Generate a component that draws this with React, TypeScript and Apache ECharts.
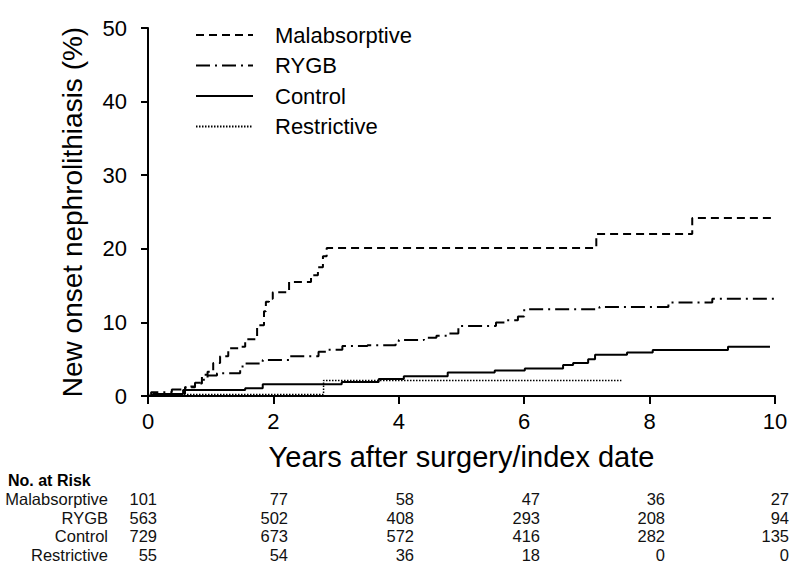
import React, { useEffect, useRef } from "react";
import * as echarts from "echarts";

const seriesNames = ["Malabsorptive", "RYGB", "Control", "Restrictive"];

const malabTimes = [0, 0.59, 0.75, 0.86, 0.95, 1.04, 1.15, 1.28, 1.47, 1.55, 1.74, 1.85, 1.88, 1.93, 1.99, 2.25, 2.6, 2.71, 2.79, 2.85, 7.15, 8.68, 10];
const malabPct = [0, 1.2, 1.7, 2.9, 3.3, 4.5, 5.4, 6.5, 6.7, 7.7, 9.6, 11.5, 12.8, 13.2, 14.1, 15.5, 16.4, 17.5, 19.0, 20.1, 22.0, 24.2, 24.2];

const rygbTimes = [0, 0.05, 0.38, 0.6, 0.75, 0.86, 0.95, 1.1, 1.47, 1.55, 1.83, 2.25, 2.72, 2.85, 3.1, 3.5, 3.95, 4.0, 4.4, 4.6, 4.8, 4.95, 5.55, 5.7, 5.9, 6.0, 7.2, 8.3, 9.0, 10];
const rygbPct = [0, 0.5, 0.9, 1.3, 1.8, 2.2, 2.8, 3.1, 4.0, 4.4, 4.9, 5.4, 6.0, 6.3, 6.8, 6.9, 7.2, 7.6, 7.9, 8.2, 8.5, 9.5, 10.0, 10.3, 10.8, 11.8, 12.1, 12.7, 13.2, 13.2];

const controlTimes = [0, 0.08, 0.56, 1.55, 1.83, 3.09, 3.68, 4.08, 4.78, 5.53, 6.01, 6.62, 6.78, 7.02, 7.13, 7.64, 8.05, 9.25, 9.92];
const controlPct = [0, 0.27, 0.8, 1.05, 1.6, 1.9, 2.3, 2.7, 3.2, 3.45, 3.75, 4.2, 4.5, 5.0, 5.6, 5.9, 6.25, 6.7, 6.7];

const restrictTimes = [0, 2.8, 7.55];
const restrictPct = [0.2, 2.1, 2.1];

const riskHeader = "No. at Risk";
const riskMalab = [101, 77, 58, 47, 36, 27];
const riskRygb = [563, 502, 408, 293, 208, 94];
const riskControl = [729, 673, 572, 416, 282, 135];
const riskRestrict = [55, 54, 36, 18, 0, 0];

const FONT = '"Liberation Sans", Arial, sans-serif';

function zip(t: number[], v: number[]) {
  return t.map((x, i) => [x, v[i]]);
}

export default function App() {
  const ref = useRef<HTMLDivElement>(null);
  useEffect(() => {
    const chart = echarts.init(ref.current!, null, { renderer: "svg" });
    const riskRows = [riskMalab, riskRygb, riskControl, riskRestrict];
    const colX = [157, 288, 414, 540, 665, 789];
    const rowY = [499, 517.7, 536.3, 555];
    const graphics: any[] = [
      {
        type: "text",
        style: { text: riskHeader, x: 8, y: 480, font: `bold 16px ${FONT}`, fill: "#000", textVerticalAlign: "middle", verticalAlign: "middle" },
      },
    ];
    riskRows.forEach((row, r) => {
      graphics.push({
        type: "text",
        style: { text: seriesNames[r], x: 108, y: rowY[r], font: `16.5px ${FONT}`, fill: "#111", textAlign: "right", align: "right", textVerticalAlign: "middle", verticalAlign: "middle" },
      });
      row.forEach((v, c) => {
        graphics.push({
          type: "text",
          style: { text: String(v), x: colX[c], y: rowY[r], font: `16.5px ${FONT}`, fill: "#111", textAlign: "right", align: "right", textVerticalAlign: "middle", verticalAlign: "middle" },
        });
      });
    });

    const mk = (name: string, data: number[][], type: any, width: number) => ({
      name,
      type: "line",
      step: "end",
      data,
      symbol: "none",
      showSymbol: false,
      lineStyle: { color: "#000", width, type },
      itemStyle: { color: "#000" },
      emphasis: { disabled: true },
    });

    chart.setOption({
      animation: false,
      textStyle: { fontFamily: FONT },
      grid: { left: 148, right: 21, top: 28, bottom: 178, containLabel: false },
      legend: {
        data: seriesNames,
        orient: "vertical",
        left: 195,
        top: 23,
        padding: 0,
        itemWidth: 57,
        itemHeight: 10,
        itemGap: 6.5,
        selectedMode: false,
        itemStyle: { opacity: 0 },
        textStyle: { fontSize: 22, color: "#000", fontFamily: FONT, lineHeight: 24, padding: [0, 0, 0, 17] },
      },
      xAxis: {
        type: "value",
        min: 0,
        max: 10,
        interval: 2,
        name: "Years after surgery/index date",
        nameLocation: "middle",
        nameGap: 46,
        nameTextStyle: { fontSize: 29, color: "#000", fontFamily: FONT },
        axisLine: { show: true, onZero: false, lineStyle: { color: "#000", width: 2 } },
        axisTick: { show: true, inside: false, length: 8, lineStyle: { color: "#000", width: 2 } },
        axisLabel: { fontSize: 22, color: "#000", margin: 14, fontFamily: FONT },
        splitLine: { show: false },
      },
      yAxis: {
        type: "value",
        min: 0,
        max: 50,
        interval: 10,
        name: "New onset nephrolithiasis (%)",
        nameLocation: "middle",
        nameGap: 62,
        nameTextStyle: { fontSize: 28, color: "#000", fontFamily: FONT },
        axisLine: { show: true, onZero: false, lineStyle: { color: "#000", width: 2 } },
        axisTick: { show: true, inside: false, length: 7, lineStyle: { color: "#000", width: 2 } },
        axisLabel: { fontSize: 22, color: "#000", margin: 21, fontFamily: FONT },
        splitLine: { show: false },
      },
      series: [
        mk("Malabsorptive", zip(malabTimes, malabPct), [8, 5], 2),
        mk("RYGB", zip(rygbTimes, rygbPct), [14, 5, 2, 5], 2),
        mk("Control", zip(controlTimes, controlPct), "solid", 2),
        mk("Restrictive", zip(restrictTimes, restrictPct), [1.5, 1.5], 1.5),
      ],
      graphic: graphics,
    });
    return () => chart.dispose();
  }, []);
  return <div ref={ref} style={{ position: "fixed", left: 0, top: 0, width: 796, height: 574, background: "#fff" }} />;
}
